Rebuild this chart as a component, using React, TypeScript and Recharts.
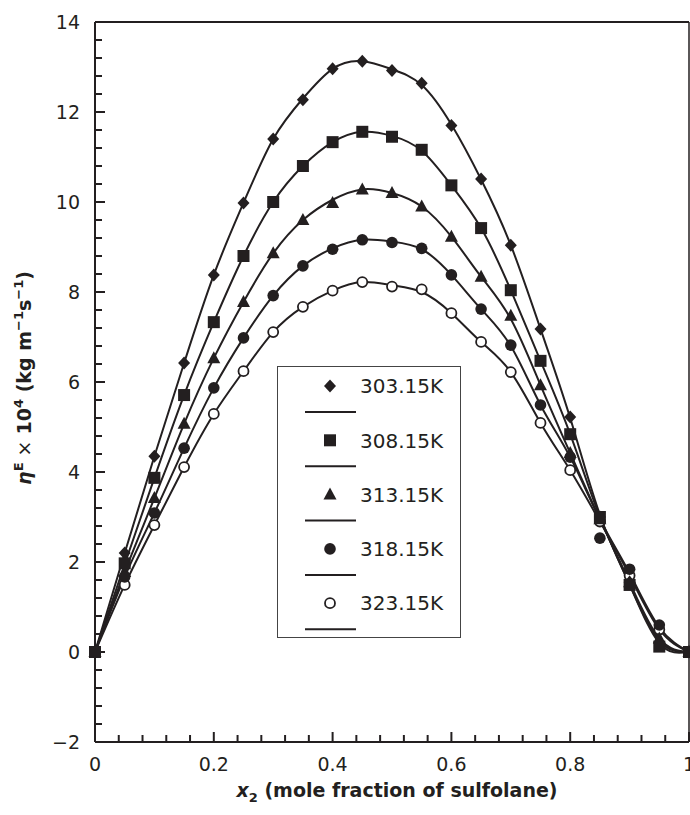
import React from 'react';
import { LineChart, Line, XAxis, YAxis, ReferenceLine, Legend } from 'recharts';

// ---- data ----
const moleFractions = [0, 0.05, 0.1, 0.15, 0.2, 0.25, 0.3, 0.35, 0.4, 0.45, 0.5, 0.55, 0.6, 0.65, 0.7, 0.75, 0.8, 0.85, 0.9, 0.95, 1];

const tempLabels = ['303.15K', '308.15K', '313.15K', '318.15K', '323.15K'];
const markerShapes = ['diamond', 'square', 'triangle', 'circle', 'openCircle'];
// order in which the point sets are drawn (last one on top)
const drawOrder = [4, 3, 2, 0, 1];

// experimental points
const exp303 = [0, 2.2, 4.35, 6.42, 8.38, 9.98, 11.4, 12.27, 12.96, 13.13, 12.92, 12.64, 11.7, 10.51, 9.04, 7.18, 5.22, 3.0, 1.55, 0.2, 0];
const exp308 = [0, 1.97, 3.87, 5.71, 7.33, 8.8, 10.0, 10.8, 11.33, 11.56, 11.45, 11.16, 10.37, 9.42, 8.04, 6.47, 4.84, 3.0, 1.49, 0.12, 0];
const exp313 = [0, 1.78, 3.42, 5.07, 6.53, 7.78, 8.86, 9.6, 9.98, 10.28, 10.2, 9.9, 9.23, 8.34, 7.47, 5.93, 4.42, 2.95, 1.55, 0.3, 0];
const exp318 = [0, 1.67, 3.09, 4.53, 5.87, 6.98, 7.92, 8.58, 8.95, 9.16, 9.1, 8.97, 8.38, 7.62, 6.82, 5.49, 4.33, 2.53, 1.84, 0.6, 0];
const exp323 = [0, 1.49, 2.82, 4.11, 5.29, 6.24, 7.11, 7.67, 8.03, 8.22, 8.12, 8.06, 7.53, 6.89, 6.22, 5.09, 4.04, 2.9, 1.7, 0.5, 0];

// fitted curves
const fit303 = [0, 2.2, 4.35, 6.42, 8.38, 9.98, 11.4, 12.3, 12.96, 13.13, 12.95, 12.6, 11.72, 10.5, 9.04, 7.18, 5.2, 3.05, 1.5, 0.25, 0];
const fit308 = [0, 1.95, 3.87, 5.71, 7.33, 8.8, 10.0, 10.8, 11.33, 11.56, 11.47, 11.14, 10.37, 9.42, 8.04, 6.47, 4.84, 3.0, 1.5, 0.2, 0];
const fit313 = [0, 1.78, 3.42, 5.07, 6.53, 7.78, 8.86, 9.6, 10.05, 10.28, 10.2, 9.9, 9.23, 8.34, 7.4, 5.93, 4.42, 2.95, 1.55, 0.3, 0];
const fit318 = [0, 1.67, 3.09, 4.53, 5.87, 6.98, 7.92, 8.58, 8.97, 9.16, 9.12, 8.95, 8.38, 7.62, 6.8, 5.49, 4.33, 2.95, 1.75, 0.55, 0];
const fit323 = [0, 1.49, 2.82, 4.11, 5.29, 6.24, 7.11, 7.67, 8.03, 8.22, 8.15, 8.0, 7.53, 6.89, 6.22, 5.09, 4.04, 2.9, 1.7, 0.5, 0];

const expSeries = [exp303, exp308, exp313, exp318, exp323];
const fitSeries = [fit303, fit308, fit313, fit318, fit323];

// ticks
const xMajorTicks = [0, 0.2, 0.4, 0.6, 0.8, 1];
const xTickLabels = ['0', '0.2', '0.4', '0.6', '0.8', '1'];
const xMinorTicks = [0, 0.04, 0.08, 0.12, 0.16, 0.2, 0.24, 0.28, 0.32, 0.36, 0.4, 0.44, 0.48, 0.52, 0.56, 0.6, 0.64, 0.68, 0.72, 0.76, 0.8, 0.84, 0.88, 0.92, 0.96, 1];
const yMajorTicks = [-2, 0, 2, 4, 6, 8, 10, 12, 14];
const yTickLabels = ['\u22122', '0', '2', '4', '6', '8', '10', '12', '14'];
const yMinorTicks = [-2, -1.6, -1.2, -0.8, -0.4, 0, 0.4, 0.8, 1.2, 1.6, 2, 2.4, 2.8, 3.2, 3.6, 4, 4.4, 4.8, 5.2, 5.6, 6, 6.4, 6.8, 7.2, 7.6, 8, 8.4, 8.8, 9.2, 9.6, 10, 10.4, 10.8, 11.2, 11.6, 12, 12.4, 12.8, 13.2, 13.6, 14];

// ---- styling ----
const INK = '#231f20';
const FONT = '"DejaVu Sans", Arial, sans-serif';

const rows = moleFractions.map((x, i) => {
  const r: any = { x };
  expSeries.forEach((s, k) => { r['e' + k] = s[i]; });
  fitSeries.forEach((s, k) => { r['f' + k] = s[i]; });
  return r;
});

function drawMarker(shape: string, cx: number, cy: number, key?: any) {
  if (cx == null || cy == null || isNaN(cx) || isNaN(cy)) return <g key={key} />;
  switch (shape) {
    case 'diamond':
      return <polygon key={key} points={`${cx},${cy - 6.5} ${cx + 6},${cy} ${cx},${cy + 6.5} ${cx - 6},${cy}`} fill={INK} />;
    case 'square':
      return <rect key={key} x={cx - 6} y={cy - 6} width={12} height={12} fill={INK} />;
    case 'triangle':
      return <polygon key={key} points={`${cx},${cy - 7} ${cx + 6.5},${cy + 5} ${cx - 6.5},${cy + 5}`} fill={INK} />;
    case 'circle':
      return <circle key={key} cx={cx} cy={cy} r={5.8} fill={INK} />;
    default:
      return <circle key={key} cx={cx} cy={cy} r={5} fill="#fff" stroke={INK} strokeWidth={1.8} />;
  }
}

const findIdx = (arr: number[], v: number) => arr.findIndex((t) => Math.abs(t - v) < 1e-6);

const XTick = (props: any) => {
  const { x, y, payload } = props;
  const idx = findIdx(xMajorTicks, payload.value);
  const major = idx >= 0;
  return (
    <g>
      <line x1={x} x2={x} y1={y} y2={y - (major ? 10 : 7)} stroke={INK} strokeWidth={2} />
      {major && (
        <text x={x} y={y + 15} dy="0.72em" textAnchor="middle" fontFamily={FONT} fontSize={19} fill={INK}>
          {xTickLabels[idx]}
        </text>
      )}
    </g>
  );
};

const YTick = (props: any) => {
  const { x, y, payload } = props;
  const idx = findIdx(yMajorTicks, payload.value);
  const major = idx >= 0;
  return (
    <g>
      <line x1={x} x2={x + (major ? 10 : 7)} y1={y} y2={y} stroke={INK} strokeWidth={2} />
      {major && (
        <text x={x - 15} y={y} dy="0.36em" textAnchor="end" fontFamily={FONT} fontSize={19} fill={INK}>
          {yTickLabels[idx]}
        </text>
      )}
    </g>
  );
};

const XTitle = (props: any) => {
  const vb = props.viewBox || { x: 95, y: 742, width: 594, height: 73 };
  const cx = vb.x + vb.width / 2 + 5;
  const by = vb.y + 55;
  return (
    <text x={cx} y={by} textAnchor="middle" fontFamily={FONT} fontSize={19} fontWeight="bold" fill={INK}>
      <tspan fontStyle="italic">x</tspan>
      <tspan fontSize={13} dy={5}>2</tspan>
      <tspan dy={-5}> (mole fraction of sulfolane)</tspan>
    </text>
  );
};

const YTitle = (props: any) => {
  const vb = props.viewBox || { x: 0, y: 22, width: 95, height: 720 };
  const cx = 31;
  const cy = vb.y + vb.height / 2 - 4;
  return (
    <text
      x={cx}
      y={cy}
      transform={`rotate(-90, ${cx}, ${cy})`}
      textAnchor="middle"
      fontFamily={FONT}
      fontSize={19}
      fontWeight="bold"
      fill={INK}
    >
      <tspan fontStyle="italic">η</tspan>
      <tspan fontSize={13} dy={-8}>E</tspan>
      <tspan fontWeight="normal" dy={8}> × </tspan>
      <tspan>10</tspan>
      <tspan fontSize={13} dy={-8}>4</tspan>
      <tspan dy={8}> (kg m</tspan>
      <tspan fontSize={13} dy={-8}>−1</tspan>
      <tspan dy={8}>s</tspan>
      <tspan fontSize={13} dy={-8}>−1</tspan>
      <tspan dy={8}>)</tspan>
    </text>
  );
};

const LegendBox = () => {
  const w = 184;
  const h = 272;
  const step = 54.3;
  return (
    <svg width={w} height={h} style={{ display: 'block' }}>
      <rect x={0.5} y={0.5} width={w - 1} height={h - 1} fill="#fff" stroke="#444" strokeWidth={1} />
      {tempLabels.map((lab, i) => {
        const ry = 20 + i * step;
        const ly = 46 + i * step;
        return (
          <g key={lab}>
            {drawMarker(markerShapes[i], 53, ry)}
            <text x={83} y={ry} dy="0.36em" fontFamily={FONT} fontSize={20} fill={INK}>
              {lab}
            </text>
            <line x1={28} x2={79} y1={ly} y2={ly} stroke={INK} strokeWidth={2} />
          </g>
        );
      })}
    </svg>
  );
};

export default function App() {
  return (
    <div style={{ position: 'absolute', left: 0, top: 0, width: 690, height: 815, background: '#fff' }}>
      <LineChart width={690} height={815} data={rows} margin={{ top: 22, right: 1, bottom: 0, left: 0 }}>
        <XAxis
          dataKey="x"
          type="number"
          domain={[0, 1]}
          ticks={xMinorTicks}
          interval={0}
          tickSize={0}
          tickMargin={0}
          tickLine={false}
          tick={XTick}
          axisLine={{ stroke: INK, strokeWidth: 2 }}
          height={73}
          label={{ content: XTitle }}
        />
        <YAxis
          type="number"
          domain={[-2, 14]}
          ticks={yMinorTicks}
          interval={0}
          tickSize={0}
          tickMargin={0}
          tickLine={false}
          tick={YTick}
          axisLine={{ stroke: INK, strokeWidth: 2 }}
          width={95}
          label={{ content: YTitle }}
        />
        <ReferenceLine y={14} stroke={INK} strokeWidth={2} />
        <ReferenceLine x={1} stroke={INK} strokeWidth={1.5} />
        {fitSeries.map((_, k) => (
          <Line
            key={'f' + k}
            dataKey={'f' + k}
            type="natural"
            stroke={INK}
            strokeWidth={2}
            dot={false}
            activeDot={false}
            legendType="none"
            isAnimationActive={false}
          />
        ))}
        {drawOrder.map((k) => (
          <Line
            key={'e' + k}
            dataKey={'e' + k}
            name={tempLabels[k]}
            stroke="none"
            dot={(p: any) => drawMarker(markerShapes[k], p.cx, p.cy, p.index)}
            activeDot={false}
            legendType="none"
            isAnimationActive={false}
          />
        ))}
        <Legend
          layout="horizontal"
          verticalAlign="middle"
          align="center"
          content={() => <LegendBox />}
          wrapperStyle={{ position: 'absolute', left: 277, top: 366, width: 184, height: 272 }}
        />
      </LineChart>
    </div>
  );
}
